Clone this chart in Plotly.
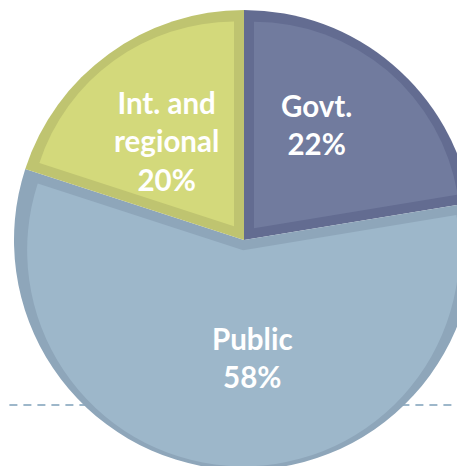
import math
import plotly.graph_objects as go

# ---- data ----
labels = ["Govt.", "Public", "Int. and<br>regional"]
values = [22.4, 57.6, 20.0]
percent_text = ["22%", "58%", "20%"]

# ---- styles ----
fill_colors = ["#717b9e", "#9db7ca", "#d3d97b"]
border_colors = ["#636c91", "#8ea6ba", "#bfc470"]
dash_color = "#9db7ca"
label_px = [(316.5, 124.5), (252, 357), (166, 141)]  # label centres on the page

BODY = 8  # default page margin
PLOT = 460
ML, MT = 6, 2
W, H = ML + PLOT, MT + PLOT
R_OUT = PLOT / 2
BORDER = 10


def dom(rpx):
    h = rpx / PLOT
    return dict(x=[0.5 - h, 0.5 + h], y=[0.5 - h, 0.5 + h])


common = dict(labels=labels, values=values, sort=False, direction="clockwise",
              rotation=0, hoverinfo="skip", showlegend=False, textinfo="none")

fig = go.Figure()
# outer (border colour) pie
fig.add_trace(go.Pie(**common, marker=dict(colors=border_colors, line=dict(width=0)),
                     domain=dom(R_OUT)))

total = sum(values)
for i in range(len(values)):
    theta = 2 * math.pi * values[i] / total
    o = BORDER / math.sin(theta / 2)
    r = R_OUT - BORDER - o * (1 + math.cos(theta / 2)) / 2
    p = o / r
    cols = ["rgba(0,0,0,0)"] * len(values)
    cols[i] = fill_colors[i]
    pulls = [0] * len(values)
    pulls[i] = p
    fig.add_trace(go.Pie(**common, marker=dict(colors=cols, line=dict(width=0)),
                         pull=pulls, domain=dom(r + o)))

for lab, pct, (px, py) in zip(labels, percent_text, label_px):
    fig.add_annotation(text=f"{lab}<br>{pct}", xref="paper", yref="paper",
                       x=(px - BODY - ML) / PLOT, y=1 - (py - BODY - MT) / PLOT,
                       xanchor="center", yanchor="middle", showarrow=False,
                       font=dict(family="Lato", size=29.5, color="white", weight="bold"))

y_dash = 1 - (405 - BODY - MT) / PLOT
fig.add_shape(type="line", xref="paper", yref="paper", x0=-0.01, x1=1.0,
              y0=y_dash, y1=y_dash, layer="below",
              line=dict(color=dash_color, width=2, dash="8px,6px"))

fig.update_layout(width=W, height=H, margin=dict(l=ML, r=0, t=MT, b=0),
                  paper_bgcolor="white", plot_bgcolor="white", showlegend=False)

fig.write_html("out.html")
